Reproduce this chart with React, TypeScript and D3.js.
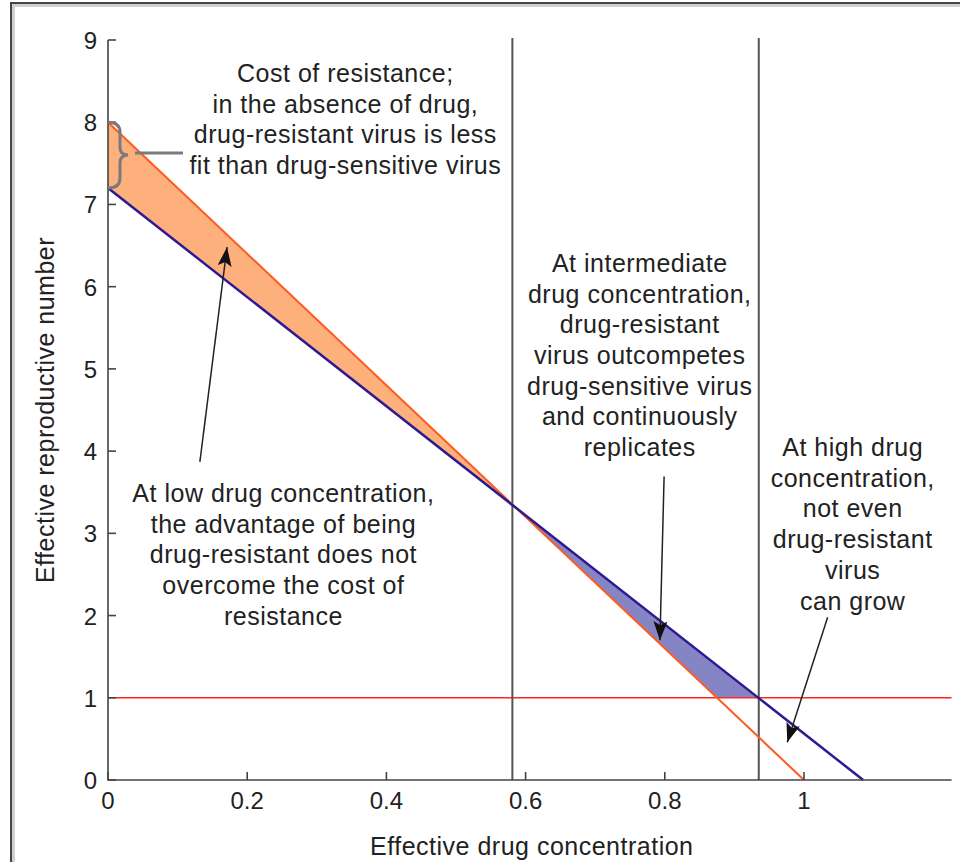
import React from 'react';
import * as d3 from 'd3';

// reproductive number vs drug concentration
const sensitiveLine = [[0, 8], [1, 0]];
const resistantLine = [[0, 7.2], [1.085, 0]];
const threshold = 1;
const regionEdges = [0.581, 0.935];

const xTicks = [0, 0.2, 0.4, 0.6, 0.8, 1];
const xTickLabels = ['0', '0.2', '0.4', '0.6', '0.8', '1'];
const yTicks = [0, 1, 2, 3, 4, 5, 6, 7, 8, 9];

const notes = [
    { x: 0.341, y: 8.6, lines: ['Cost of resistance;', 'in the absence of drug,', 'drug-resistant virus is less', 'fit than drug-sensitive virus'] },
    { x: 0.252, y: 3.49, lines: ['At low drug concentration,', 'the advantage of being', 'drug-resistant does not', 'overcome the cost of', 'resistance'] },
    { x: 0.764, y: 6.29, lines: ['At intermediate', 'drug concentration,', 'drug-resistant', 'virus outcompetes', 'drug-sensitive virus', 'and continuously', 'replicates'] },
    { x: 1.07, y: 4.05, lines: ['At high drug', 'concentration,', 'not even', 'drug-resistant', 'virus', 'can grow'] },
];

const arrows = [
    { from: [0.132, 3.87], to: [0.171, 6.48] },
    { from: [0.799, 3.69], to: [0.793, 1.7] },
    { from: [1.034, 1.98], to: [0.976, 0.46] },
];

const width = 960;
const height = 862;
const xMax = 1.212;
const font = '"Liberation Sans", Arial, Helvetica, sans-serif';

function lineAt(pts, v) {
    const [[x0, y0], [x1, y1]] = pts;
    return y0 + ((y1 - y0) * (v - x0)) / (x1 - x0);
}

function xAtY(pts, yv) {
    const [[x0, y0], [x1, y1]] = pts;
    return x0 + ((x1 - x0) * (yv - y0)) / (y1 - y0);
}

export default function App() {
    const x = d3.scaleLinear([0, 1], [108, 804]);
    const y = d3.scaleLinear([0, 9], [780, 40]);

    const sSlope = (sensitiveLine[1][1] - sensitiveLine[0][1]) / (sensitiveLine[1][0] - sensitiveLine[0][0]);
    const rSlope = (resistantLine[1][1] - resistantLine[0][1]) / (resistantLine[1][0] - resistantLine[0][0]);
    const xi = (resistantLine[0][1] - sensitiveLine[0][1]) / (sSlope - rSlope);
    const yi = lineAt(sensitiveLine, xi);

    const area = d3.line().x(d => x(d[0])).y(d => y(d[1]));
    const orangeArea = [sensitiveLine[0], [xi, yi], resistantLine[0]];
    const purpleArea = [
        [xi, yi],
        [xAtY(resistantLine, threshold), threshold],
        [xAtY(sensitiveLine, threshold), threshold],
    ];

    const lineH = 30.7;
    const y8 = y(sensitiveLine[0][1]);
    const y72 = y(resistantLine[0][1]);
    const ym = (y8 + y72) / 2;
    const x0 = x(0);
    const brace = `M${x0},${y8} Q${x0 + 12},${y8} ${x0 + 12},${y8 + 10} L${x0 + 12},${ym - 8} Q${x0 + 12},${ym} ${x0 + 20},${ym} Q${x0 + 12},${ym} ${x0 + 12},${ym + 8} L${x0 + 12},${y72 - 10} Q${x0 + 12},${y72} ${x0},${y72}`;

    return (
        <svg width={width} height={height} style={{ position: 'absolute', left: 0, top: 0, background: '#fff' }}>
            <defs>
                <marker id="head" markerUnits="userSpaceOnUse" markerWidth="20" markerHeight="14" refX="19" refY="7" orient="auto">
                    <path d="M0,0 L19,7 L0,14 L4,7 Z" fill="#111" />
                </marker>
            </defs>

            {/* frame */}
            <path d={`M11,${height} L11,3 L${width},3`} fill="none" stroke="#d0d0d0" strokeWidth="4" transform="translate(2,2)" />
            <path d={`M11,${height} L11,3 L${width},3`} fill="none" stroke="#444" strokeWidth="2" />

            {/* shaded regions */}
            <path d={area(orangeArea) + 'Z'} fill="#fdb07c" />
            <path d={area(purpleArea) + 'Z'} fill="#8585c6" />

            {/* threshold and region edges */}
            <line x1={x(0)} x2={x(xMax)} y1={y(threshold)} y2={y(threshold)} stroke="#ff2424" strokeWidth="1.5" />
            {regionEdges.map(v => (
                <line key={v} x1={x(v)} x2={x(v)} y1={y(9) - 2} y2={y(0)} stroke="#555" strokeWidth="2" />
            ))}

            <path d={area(sensitiveLine)} stroke="#ff5a1e" strokeWidth="2" fill="none" />
            <path d={area(resistantLine)} stroke="#2d1a92" strokeWidth="2.5" fill="none" />

            {/* axes */}
            <g stroke="#444" strokeWidth="1.6" fill="none">
                <path d={`M${x(0)},${y(9)} L${x(0)},${y(0)} L${x(xMax)},${y(0)}`} />
                {yTicks.map(t => (
                    <line key={t} x1={x(0)} x2={x(0) + 8} y1={y(t)} y2={y(t)} />
                ))}
                {xTicks.map(t => (
                    <line key={t} x1={x(t)} x2={x(t)} y1={y(0)} y2={y(0) - 8} />
                ))}
            </g>
            <g fontFamily={font} fontSize="24" fill="#222">
                {yTicks.map(t => (
                    <text key={t} x={x(0) - 11} y={y(t) + 9} textAnchor="end">{t}</text>
                ))}
                {xTicks.map((t, i) => (
                    <text key={t} x={x(t)} y={y(0) + 29} textAnchor="middle">{xTickLabels[i]}</text>
                ))}
            </g>
            <g fontFamily={font} fontSize="25" fill="#222" letterSpacing="0.5">
                <text x={x(xMax / 2) + 2} y={855} textAnchor="middle">Effective drug concentration</text>
                <text transform={`translate(54,${y(4.5)}) rotate(-90)`} textAnchor="middle">Effective reproductive number</text>
            </g>

            {/* cost-of-resistance brace */}
            <path d={brace} fill="none" stroke="#7a7a7a" strokeWidth="3" />
            <line x1={x0 + 27} x2={x0 + 75} y1={ym - 2} y2={ym - 2} stroke="#7a7a7a" strokeWidth="3" />

            {/* annotations */}
            {arrows.map((a, i) => (
                <line key={i} x1={x(a.from[0])} y1={y(a.from[1])} x2={x(a.to[0])} y2={y(a.to[1])}
                    stroke="#222" strokeWidth="1.5" markerEnd="url(#head)" />
            ))}
            <g fontFamily={font} fontSize="25" fill="#222" textAnchor="middle" letterSpacing="0.5">
                {notes.map((n, i) => (
                    <text key={i}>
                        {n.lines.map((l, j) => (
                            <tspan key={j} x={x(n.x)} y={y(n.y) + 9 + j * lineH}>{l}</tspan>
                        ))}
                    </text>
                ))}
            </g>
        </svg>
    );
}
